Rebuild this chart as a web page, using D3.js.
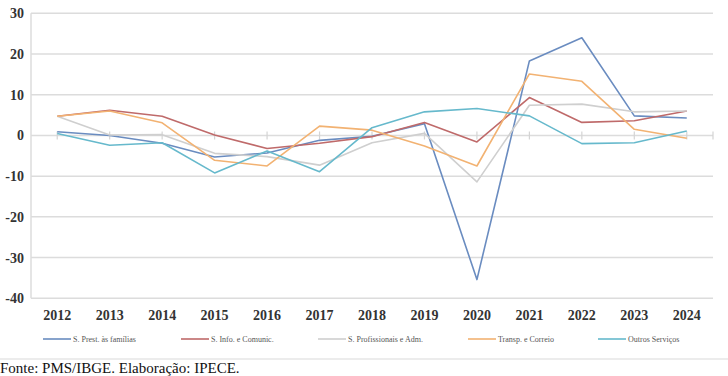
<!DOCTYPE html>
<html><head><meta charset="utf-8">
<script src="https://cdn.jsdelivr.net/npm/d3@7"></script>
<style>body{margin:0;background:#fff;}svg{display:block;}</style>
</head><body>
<svg id="c" width="728" height="376"></svg>
<script>
const years = ["2012","2013","2014","2015","2016","2017","2018","2019","2020","2021","2022","2023","2024"];
const yTicks = [30,20,10,0,-10,-20,-30,-40];
const seriesNames = ["S. Prest. às famílias","S. Info. e Comunic.","S. Profissionais e Adm.","Transp. e Correio","Outros Serviços"];
const sPrest = [0.9,0.0,-1.9,-5.3,-4.3,-1.2,-0.2,2.9,-35.4,18.3,24.0,4.8,4.3];
const sInfo = [4.7,6.2,4.7,0.1,-3.2,-1.9,-0.3,3.2,-1.6,9.3,3.2,3.6,6.0];
const sProf = [4.7,0.1,0.2,-4.4,-5.2,-7.3,-1.8,0.5,-11.4,7.4,7.7,5.8,6.0];
const sTransp = [4.7,6.0,3.1,-6.1,-7.5,2.3,1.3,-2.6,-7.5,15.1,13.3,1.5,-0.7];
const sOutros = [0.5,-2.4,-1.8,-9.2,-3.8,-8.9,1.9,5.8,6.6,4.8,-2.0,-1.8,1.1];
const seriesValues = [sPrest,sInfo,sProf,sTransp,sOutros];
const colors = ["#6a8cc0","#bf6a6a","#cfcfcf","#f2b272","#66b9cc"];

const svg = d3.select("#c");
const L = 31, R = 713, T = 13.3, B = 298.3;
const x = d3.scaleBand().domain(years).range([L,R]);
const y = d3.scaleLinear().domain([-40,30]).range([B,T]);
const cx = d => x(d) + x.bandwidth()/2;

// gridlines
svg.append("g").selectAll("line").data(yTicks).join("line")
  .attr("x1",L).attr("x2",R).attr("y1",d=>y(d)).attr("y2",d=>y(d))
  .attr("stroke","#dcdcdc").attr("stroke-width",1.5);
// left axis line
svg.append("line").attr("x1",L).attr("x2",L).attr("y1",T).attr("y2",B)
  .attr("stroke","#dcdcdc").attr("stroke-width",1.5);
// tick marks on zero line
const tk = years.map(cx).concat([R]);
svg.append("g").selectAll("line").data(tk).join("line")
  .attr("x1",d=>d).attr("x2",d=>d).attr("y1",y(0)-4).attr("y2",y(0)+4)
  .attr("stroke","#d4d4d4").attr("stroke-width",1.2);

// y labels
svg.append("g").selectAll("text").data(yTicks).join("text")
  .attr("x",24).attr("y",d=>y(d)+5).attr("text-anchor","end")
  .attr("font-family","Liberation Serif").attr("font-size",14).attr("font-weight","bold")
  .attr("fill","#333").text(d=>d);
// x labels
svg.append("g").selectAll("text").data(years).join("text")
  .attr("x",d=>cx(d)).attr("y",320).attr("text-anchor","middle")
  .attr("font-family","Liberation Serif").attr("font-size",14).attr("font-weight","bold")
  .attr("fill","#333").text(d=>d);

// lines
const line = d3.line().x((d,i)=>cx(years[i])).y(d=>y(d));
svg.append("g").selectAll("path").data(seriesValues).join("path")
  .attr("d",line).attr("fill","none")
  .attr("stroke",(d,i)=>colors[i]).attr("stroke-width",1.6).attr("stroke-linejoin","round");

// legend
const legX = [43,181,318,468,598];
const lg = svg.append("g").selectAll("g").data(seriesNames).join("g")
  .attr("transform",(d,i)=>`translate(${legX[i]},339)`);
lg.append("line").attr("x1",0).attr("x2",28).attr("y1",0).attr("y2",0)
  .attr("stroke",(d,i)=>colors[i]).attr("stroke-width",1.6);
lg.append("text").attr("x",30).attr("y",3).attr("font-family","Liberation Serif")
  .attr("font-size",8).attr("fill","#555").text(d=>d);

// bottom border line
svg.append("line").attr("x1",0).attr("x2",728).attr("y1",359).attr("y2",359)
  .attr("stroke","#e6e6e6").attr("stroke-width",1.5);

// source
svg.append("text").attr("x",0).attr("y",373).attr("font-family","Liberation Serif")
  .attr("font-size",15).attr("fill","#111").text("Fonte: PMS/IBGE. Elaboração: IPECE.");
</script>
</body></html>
